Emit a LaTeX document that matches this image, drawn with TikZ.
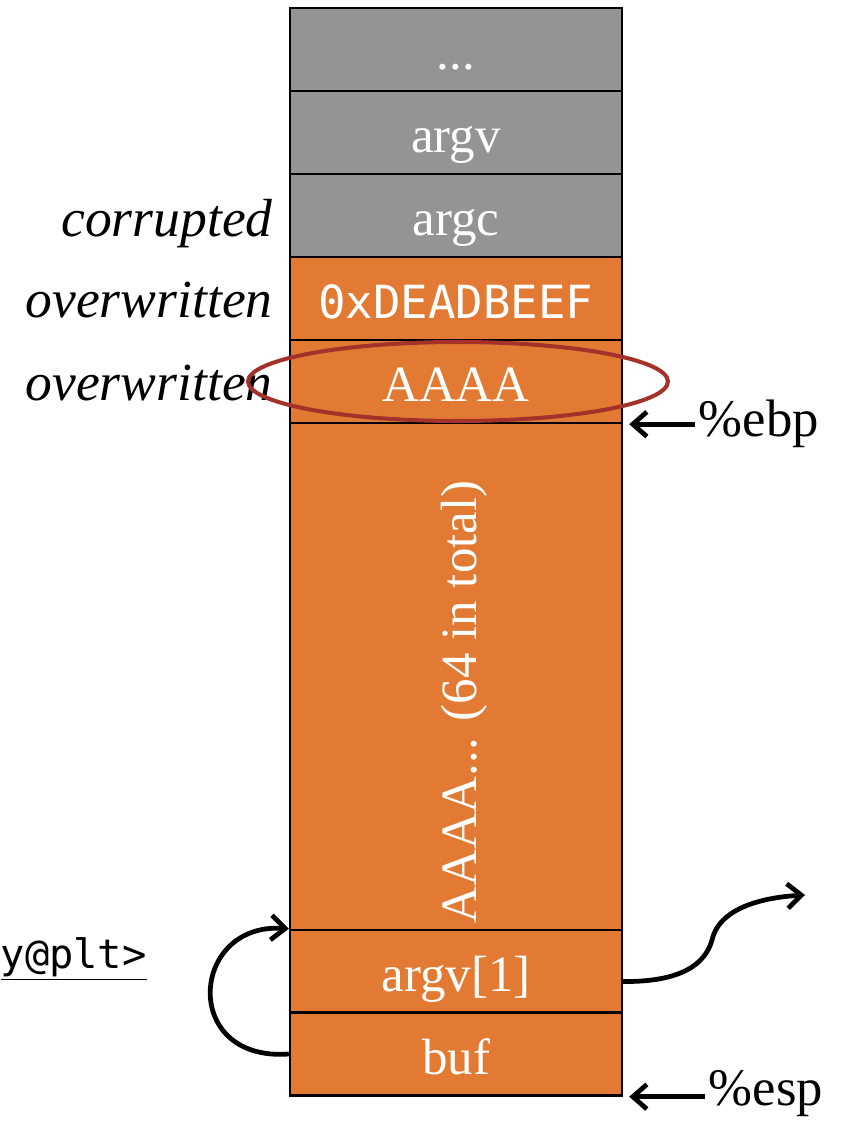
\documentclass[tikz,border=0pt]{standalone}
\usepackage{fontspec}
\setmainfont{Liberation Serif}
\setmonofont{DejaVu Sans Mono}
\usepackage{tikz}
\usetikzlibrary{arrows.meta}
\usetikzlibrary{shapes.geometric}

\definecolor{stackGray}{HTML}{939493}
\definecolor{stackOrange}{HTML}{E37A33}
\definecolor{ringRed}{HTML}{A5322A}

\begin{document}
\begin{tikzpicture}[x=0.02cm, y=-0.02cm, inner sep=0pt]
            \useasboundingbox (0,0) rectangle (850,1121);

            \tikzstyle{cell}=[draw, line width=1.4pt, minimum width=6.64cm, minimum height=1.66cm, text=white, text height=27pt, text depth=4pt, font=\fontsize{29}{33}\selectfont];
            \tikzstyle{grayCell}=[cell, fill=stackGray];
            \tikzstyle{orangeCell}=[cell, fill=stackOrange];
            \tikzstyle{note}=[anchor=base east, font=\fontsize{30.5}{34}\selectfont\itshape];
            \tikzstyle{reg}=[anchor=base west, inner sep=2pt, font=\fontsize{30}{34}\selectfont];
            \tikzstyle{ptr}=[-{Straight Barb[length=8pt, width=14pt]}, line width=2.7pt];

            % stack cells, top to bottom
            \node[grayCell] (more) at (456,49.5) {...};
            \node[grayCell] (argv) at (456,132.5) {argv};
            \node[grayCell] (argc) at (456,215.5) {argc};
            \node[orangeCell] (ret) at (456,298.5) {\ttfamily\fontsize{26}{30}\selectfont 0xDEADBEEF};
            \node[orangeCell] (saved) at (456,381.5) {AAAA};
            \node[orangeCell, minimum height=10.14cm] (buffer) at (456,676.5) {};
            \node[orangeCell] (arg1) at (456,971.5) {argv[1]};
            \node[orangeCell] (buf) at (456,1054) {buf};
            \node[rotate=90, anchor=base, text=white, font=\fontsize{29}{33}\selectfont] (fill) at (476,702) {AAAA... (64 in total)};

            % labels on the left
            \node[note] (corr) at (273,237) {corrupted};
            \node[note] (over1) at (273,318) {overwritten};
            \node[note] (over2) at (273,400) {overwritten};
            \node[anchor=base east, font=\ttfamily\fontsize{23}{28}\selectfont] (plt) at (147,968) {\underline{y@plt>}};

            % registers
            \node[reg] (ebp) at (695,436) {\%ebp};
            \node[reg] (esp) at (705,1105) {\%esp};
            \draw[ptr] (ebp.west |- saved.south) -- ([xshift=0.12cm]saved.south east);
            \draw[ptr] (esp.west |- buf.south) -- ([xshift=0.12cm]buf.south east);

            % return jumps
            \coordinate (away) at (805,895);
            \draw[ptr] (buf.west) .. controls (180,1062) and (190,922) .. (arg1.north west);
            \draw[ptr] ([yshift=-0.2cm]arg1.east) .. controls (680,982) and (705,965) .. (712,940) .. controls (720,905) and (770,897) .. (away);

            \node[ellipse, draw=ringRed, line width=2.3pt, minimum width=8.4cm, minimum height=1.58cm] (ring) at (458,381.5) {};
         \end{tikzpicture}
\end{document}
